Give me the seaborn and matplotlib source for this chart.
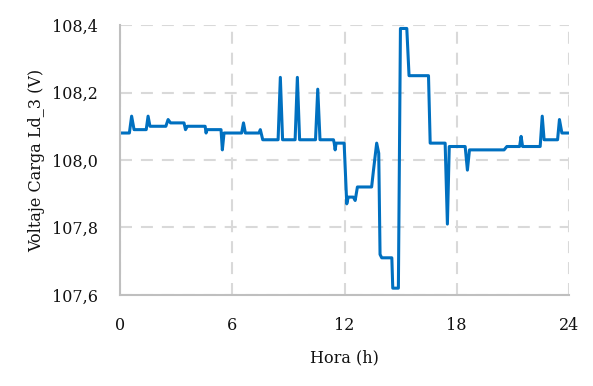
import matplotlib
matplotlib.use("Agg")
import matplotlib.pyplot as plt
import matplotlib.ticker as mticker
import seaborn as sns
import pandas as pd

hours = [0, 0.5, 0.62, 0.75, 1.4, 1.5, 1.6, 2.45, 2.57, 2.7,
         3.42, 3.5, 3.6, 4.55, 4.6, 4.65, 5.4, 5.47, 5.56, 6.5,
         6.6, 6.7, 7.43, 7.5, 7.63, 8.45, 8.57, 8.69, 9.36, 9.48,
         9.6, 10.45, 10.57, 10.69, 11.41, 11.45, 11.5, 11.55, 11.98, 12.12,
         12.2, 12.47, 12.57, 12.69, 13.45, 13.55, 13.72, 13.83, 13.9, 13.99,
         14.53, 14.58, 14.88, 14.99, 15.33, 15.45, 16.49, 16.58, 17.38, 17.5,
         17.6, 18.45, 18.57, 18.68, 20.53, 20.68, 21.36, 21.44, 21.52, 22.46,
         22.57, 22.67, 23.39, 23.49, 23.62, 24]
volts = [108.08, 108.08, 108.13, 108.09, 108.09, 108.13, 108.10, 108.10, 108.12, 108.11,
         108.11, 108.09, 108.10, 108.10, 108.08, 108.09, 108.09, 108.03, 108.08, 108.08,
         108.11, 108.08, 108.08, 108.09, 108.06, 108.06, 108.245, 108.06, 108.06, 108.245,
         108.06, 108.06, 108.21, 108.06, 108.06, 108.05, 108.03, 108.05, 108.05, 107.87,
         107.89, 107.89, 107.88, 107.92, 107.92, 107.97, 108.05, 108.02, 107.72, 107.71,
         107.71, 107.62, 107.62, 108.39, 108.39, 108.25, 108.25, 108.05, 108.05, 107.81,
         108.04, 108.04, 107.97, 108.03, 108.03, 108.04, 108.04, 108.07, 108.04, 108.04,
         108.13, 108.06, 108.06, 108.12, 108.08, 108.08]

x_ticks = [0, 6, 12, 18, 24]
y_ticks = [107.6, 107.8, 108.0, 108.2, 108.4]

df = pd.DataFrame({"Hora": hours, "Voltaje": volts})

sns.set_style("white")
plt.rcParams["font.family"] = ["DejaVu Serif"]

fig = plt.figure(figsize=(5.93, 3.86), dpi=100)
ax = fig.add_axes([0.2024, 0.236, 0.7571, 0.699])

sns.lineplot(data=df, x="Hora", y="Voltaje", color="#0070C0", linewidth=2.2, ax=ax)

ax.set_xlim(0, 24)
ax.set_ylim(107.6, 108.4)
ax.set_xticks(x_ticks)
ax.set_yticks(y_ticks)
ax.yaxis.set_major_formatter(mticker.FuncFormatter(lambda v, p: f"{v:.1f}".replace(".", ",")))
ax.tick_params(axis="both", length=0, labelsize=11.5, colors="#111111")
ax.tick_params(axis="x", pad=16)
ax.tick_params(axis="y", pad=16)

ax.grid(True, color="#D9D9D9", linestyle=(0, (5.75, 4.3)), linewidth=1.5)
ax.set_axisbelow(True)
for s in ["top", "right"]:
    ax.spines[s].set_visible(False)
for s in ["left", "bottom"]:
    ax.spines[s].set_color("#BFBFBF")
    ax.spines[s].set_linewidth(1.5)

ax.set_xlabel("Hora (h)", fontsize=11.5, labelpad=11, color="#111111")
ax.set_ylabel("Voltaje Carga Ld_3 (V)", fontsize=11.5, labelpad=5, color="#111111")

plt.savefig("out.png", dpi=100)
